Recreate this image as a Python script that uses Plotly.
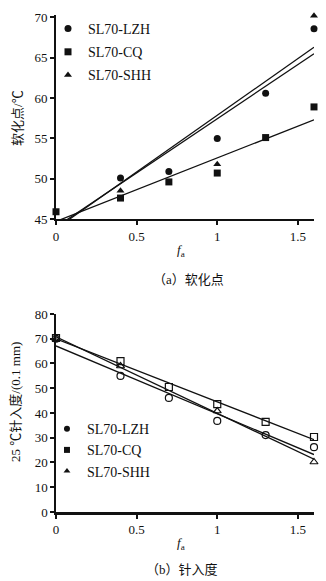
import plotly.graph_objects as go

# ---------------- data ----------------
fa = [0, 0.4, 0.7, 1.0, 1.3, 1.6]
series_names = ["SL70-LZH", "SL70-CQ", "SL70-SHH"]

# (a) softening point, °C  (None = point hidden behind other markers)
soft_lzh = [None, 50.1, 50.9, 55.0, 60.6, 68.6]
soft_cq = [45.9, 47.6, 49.6, 50.7, 55.1, 58.9]
soft_shh = [None, 48.5, None, 51.8, None, 70.2]

# linear fit lines (values at fa = 0 and fa = 1.6)
fit_x = [0, 1.6]
soft_fit_lzh = [44.0, 65.5]
soft_fit_cq = [44.7, 57.3]
soft_fit_shh = [43.8, 66.3]

# (b) penetration at 25 °C, 0.1 mm
pen_lzh = [70.0, 55.0, 46.1, 36.8, 31.1, 26.2]
pen_cq = [70.3, 61.0, 50.5, 43.6, 36.4, 30.3]
pen_shh = [70.0, 59.0, None, 40.8, None, 20.2]

pen_fit_lzh = [67.1, 23.2]
pen_fit_cq = [70.0, 29.2]
pen_fit_shh = [70.8, 21.3]

x_ticks = [0, 0.5, 1, 1.5]
x_ticklabels = ["0", "0.5", "1", "1.5"]
soft_ticks = [45, 50, 55, 60, 65, 70]
pen_ticks = [0, 10, 20, 30, 40, 50, 60, 70, 80]

symbols = ["circle", "square", "triangle-up"]
open_symbols = ["circle-open", "square-open", "triangle-up-open"]

FONT = "Liberation Serif, Times New Roman, Noto Sans CJK SC, serif"
BLACK = "#111111"

fig = go.Figure()

# ---- (a) fit lines ----
for fy in [soft_fit_lzh, soft_fit_cq, soft_fit_shh]:
    fig.add_trace(go.Scatter(x=fit_x, y=fy, mode="lines",
                             line=dict(color=BLACK, width=1.3),
                             showlegend=False, hoverinfo="skip",
                             xaxis="x", yaxis="y"))
# ---- (a) markers ----
for name, ys, sym in zip(series_names, [soft_lzh, soft_cq, soft_shh], symbols):
    fig.add_trace(go.Scatter(x=fa, y=ys, mode="markers", name=name,
                             marker=dict(symbol=sym, size=7, color=BLACK),
                             cliponaxis=False, legend="legend",
                             legendgroup="a" + name,
                             xaxis="x", yaxis="y"))

# ---- (b) fit lines ----
for fy in [pen_fit_lzh, pen_fit_cq, pen_fit_shh]:
    fig.add_trace(go.Scatter(x=fit_x, y=fy, mode="lines",
                             line=dict(color=BLACK, width=1.3),
                             showlegend=False, hoverinfo="skip",
                             xaxis="x2", yaxis="y2"))
# ---- (b) hollow markers ----
for name, ys, sym in zip(series_names, [pen_lzh, pen_cq, pen_shh], open_symbols):
    fig.add_trace(go.Scatter(x=fa, y=ys, mode="markers", name=name,
                             marker=dict(symbol=sym, size=7, color=BLACK,
                                         line=dict(width=1.2, color=BLACK)),
                             cliponaxis=False, showlegend=False,
                             xaxis="x2", yaxis="y2"))
# ---- (b) legend entries (filled symbols, as in the original) ----
for name, sym in zip(series_names, symbols):
    fig.add_trace(go.Scatter(x=[None], y=[None], mode="markers", name=name,
                             marker=dict(symbol=sym, size=6, color=BLACK),
                             legend="legend2", legendgroup="b" + name,
                             xaxis="x2", yaxis="y2"))

axis_common = dict(showgrid=False, zeroline=False, showline=True,
                   linecolor=BLACK, ticks="outside", tickcolor=BLACK,
                   ticklen=4, tickwidth=1.5, automargin=False,
                   tickfont=dict(family=FONT, size=13, color=BLACK))

fig.update_layout(
    width=326, height=581,
    margin=dict(l=56, r=12, t=15, b=69, autoexpand=False),
    paper_bgcolor="white", plot_bgcolor="white",
    font=dict(family=FONT, size=13, color=BLACK),
    xaxis=dict(domain=[0, 1], range=[0, 1.6], tickvals=x_ticks,
               ticktext=x_ticklabels, anchor="y", linewidth=2, **axis_common),
    yaxis=dict(domain=[0.5895, 1], range=[45, 70.3], tickvals=soft_ticks,
               anchor="x", linewidth=2, **axis_common),
    xaxis2=dict(domain=[0, 1], range=[0, 1.6], tickvals=x_ticks,
                ticktext=x_ticklabels, anchor="y2", linewidth=2.5, **axis_common),
    yaxis2=dict(domain=[0, 0.3984], range=[0, 80], tickvals=pen_ticks,
                anchor="x2", linewidth=1.5, **axis_common),
    legend=dict(x=-0.031, y=1.004, xanchor="left", yanchor="top",
                bgcolor="rgba(0,0,0,0)", font=dict(family=FONT, size=14),
                tracegroupgap=2, traceorder="grouped"),
    legend2=dict(x=-0.035, y=0.199, xanchor="left", yanchor="top",
                 bgcolor="rgba(0,0,0,0)", font=dict(family=FONT, size=14),
                 tracegroupgap=0, traceorder="grouped"),
    showlegend=True,
)

annotations = [
    dict(text="软化点/℃", x=-0.147, y=0.793, textangle=-90),
    dict(text="25 ℃针入度/(0.1 mm)", x=-0.16, y=0.221, textangle=-90),
    dict(text="<i>f</i><sub>a</sub>", x=0.484, y=0.527),
    dict(text="（a）软化点", x=0.512, y=0.467),
    dict(text="<i>f</i><sub>a</sub>", x=0.484, y=-0.0624),
    dict(text="（b）针入度", x=0.49, y=-0.1147),
]
for a in annotations:
    fig.add_annotation(xref="paper", yref="paper", showarrow=False,
                       xanchor="center", yanchor="middle",
                       font=dict(family=FONT, size=13, color=BLACK), **a)

fig.write_html("out.html", config={"displayModeBar": False},
               post_script="document.body.style.margin='0';document.body.style.padding='0';")
